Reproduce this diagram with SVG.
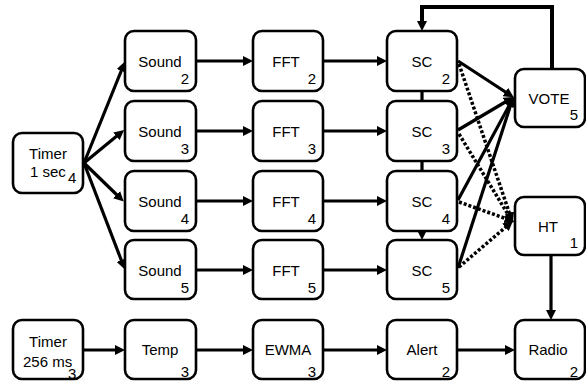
<svg xmlns="http://www.w3.org/2000/svg" width="586" height="382" viewBox="0 0 586 382">
<style>
.box{fill:#fff;stroke:#000;stroke-width:2.6}
text{font-family:"Liberation Sans",Arial,sans-serif;font-size:15px;fill:#000}
.c{text-anchor:middle}
.r{text-anchor:end}
.ln{fill:none;stroke:#000;stroke-width:3.2}
.dt{fill:none;stroke:#000;stroke-width:3.5;stroke-dasharray:3 2}
</style>
<defs>
<marker id="ah" markerUnits="userSpaceOnUse" markerWidth="11" markerHeight="10" refX="2" refY="5" orient="auto">
<path d="M0,0 L10,5 L0,10 z" fill="#000"/>
</marker>
</defs>
<g id="connectors">
<line class="ln" x1="84" y1="163" x2="122" y2="69" marker-end="url(#ah)"/>
<line class="ln" x1="84" y1="163" x2="118" y2="135" marker-end="url(#ah)"/>
<line class="ln" x1="84" y1="163" x2="118" y2="196" marker-end="url(#ah)"/>
<line class="ln" x1="84" y1="163" x2="122" y2="262" marker-end="url(#ah)"/>
<line class="ln" x1="196" y1="61" x2="245" y2="61" marker-end="url(#ah)"/>
<line class="ln" x1="196" y1="131" x2="245" y2="131" marker-end="url(#ah)"/>
<line class="ln" x1="196" y1="201" x2="245" y2="201" marker-end="url(#ah)"/>
<line class="ln" x1="196" y1="270" x2="245" y2="270" marker-end="url(#ah)"/>
<line class="ln" x1="323" y1="61" x2="379" y2="61" marker-end="url(#ah)"/>
<line class="ln" x1="323" y1="131" x2="379" y2="131" marker-end="url(#ah)"/>
<line class="ln" x1="323" y1="201" x2="379" y2="201" marker-end="url(#ah)"/>
<line class="ln" x1="323" y1="270" x2="379" y2="270" marker-end="url(#ah)"/>
<line class="ln" x1="422" y1="91" x2="422" y2="101"/>
<line class="ln" x1="422" y1="161" x2="422" y2="171"/>
<line class="ln" x1="422" y1="230" x2="422" y2="232" marker-end="url(#ah)"/>
<polyline fill="none" stroke="#000" stroke-width="4" points="552,69 552,7 422,7 422,23" marker-end="url(#ah)"/>
<line class="ln" x1="458" y1="61" x2="507" y2="93" marker-end="url(#ah)"/>
<line class="ln" x1="458" y1="130" x2="507" y2="101" marker-end="url(#ah)"/>
<line class="ln" x1="458" y1="200" x2="510" y2="104" marker-end="url(#ah)"/>
<line class="ln" x1="458" y1="268" x2="511" y2="104" marker-end="url(#ah)"/>
<line class="dt" x1="459" y1="64" x2="510" y2="215" marker-end="url(#ah)"/>
<line class="dt" x1="459" y1="134" x2="509" y2="216" marker-end="url(#ah)"/>
<line class="dt" x1="459" y1="202" x2="507" y2="219" marker-end="url(#ah)"/>
<line class="dt" x1="459" y1="267" x2="507" y2="226" marker-end="url(#ah)"/>
<line class="ln" x1="551" y1="255" x2="551" y2="312" marker-end="url(#ah)"/>
<line class="ln" x1="83" y1="350" x2="117" y2="350" marker-end="url(#ah)"/>
<line class="ln" x1="196" y1="350" x2="245" y2="350" marker-end="url(#ah)"/>
<line class="ln" x1="323" y1="350" x2="379" y2="350" marker-end="url(#ah)"/>
<line class="ln" x1="457" y1="350" x2="507" y2="350" marker-end="url(#ah)"/>
</g>
<g id="timer1"><rect class="box" x="13" y="133" width="70" height="60" rx="9"/><text class="c" x="48" y="159">Timer</text><text x="30" y="177">1 sec</text><text x="68" y="183">4</text></g>
<g id="sound2"><rect class="box" x="125" y="31" width="71" height="60" rx="9"/><text class="c" x="160" y="67">Sound</text><text class="r" x="189" y="84">2</text></g>
<g id="sound3"><rect class="box" x="125" y="101" width="71" height="60" rx="9"/><text class="c" x="160" y="137">Sound</text><text class="r" x="189" y="154">3</text></g>
<g id="sound4"><rect class="box" x="125" y="171" width="71" height="60" rx="9"/><text class="c" x="160" y="207">Sound</text><text class="r" x="189" y="224">4</text></g>
<g id="sound5"><rect class="box" x="125" y="240" width="71" height="59" rx="9"/><text class="c" x="160" y="276">Sound</text><text class="r" x="189" y="293">5</text></g>
<g id="fft2"><rect class="box" x="253" y="31" width="70" height="60" rx="9"/><text class="c" x="286" y="67">FFT</text><text class="r" x="316" y="84">2</text></g>
<g id="fft3"><rect class="box" x="253" y="101" width="70" height="60" rx="9"/><text class="c" x="286" y="137">FFT</text><text class="r" x="316" y="154">3</text></g>
<g id="fft4"><rect class="box" x="253" y="171" width="70" height="60" rx="9"/><text class="c" x="286" y="207">FFT</text><text class="r" x="316" y="224">4</text></g>
<g id="fft5"><rect class="box" x="253" y="240" width="70" height="59" rx="9"/><text class="c" x="286" y="276">FFT</text><text class="r" x="316" y="293">5</text></g>
<g id="sc2"><rect class="box" x="387" y="31" width="70" height="60" rx="9"/><text class="c" x="422" y="67">SC</text><text class="r" x="450" y="84">2</text></g>
<g id="sc3"><rect class="box" x="387" y="101" width="70" height="60" rx="9"/><text class="c" x="422" y="137">SC</text><text class="r" x="450" y="154">3</text></g>
<g id="sc4"><rect class="box" x="387" y="171" width="70" height="60" rx="9"/><text class="c" x="422" y="207">SC</text><text class="r" x="450" y="224">4</text></g>
<g id="sc5"><rect class="box" x="387" y="240" width="70" height="59" rx="9"/><text class="c" x="422" y="276">SC</text><text class="r" x="450" y="293">5</text></g>
<g id="vote"><rect class="box" x="515" y="69" width="70" height="58" rx="9"/><text class="c" x="549" y="104">VOTE</text><text class="r" x="578" y="120">5</text></g>
<g id="ht"><rect class="box" x="515" y="197" width="70" height="58" rx="9"/><text class="c" x="548" y="232">HT</text><text class="r" x="578" y="248">1</text></g>
<g id="timer256"><rect class="box" x="13" y="320" width="70" height="59" rx="9"/><text class="c" x="48" y="347">Timer</text><text x="23" y="367">256 ms</text><text x="68" y="379">3</text></g>
<g id="temp"><rect class="box" x="125" y="320" width="71" height="59" rx="9"/><text class="c" x="160" y="355">Temp</text><text class="r" x="189" y="377">3</text></g>
<g id="ewma"><rect class="box" x="253" y="320" width="70" height="59" rx="9"/><text class="c" x="288" y="355">EWMA</text><text class="r" x="316" y="377">3</text></g>
<g id="alert"><rect class="box" x="387" y="320" width="70" height="59" rx="9"/><text class="c" x="422" y="355">Alert</text><text class="r" x="450" y="377">2</text></g>
<g id="radio"><rect class="box" x="515" y="320" width="70" height="59" rx="9"/><text class="c" x="548" y="355">Radio</text><text class="r" x="578" y="377">2</text></g>
</svg>
